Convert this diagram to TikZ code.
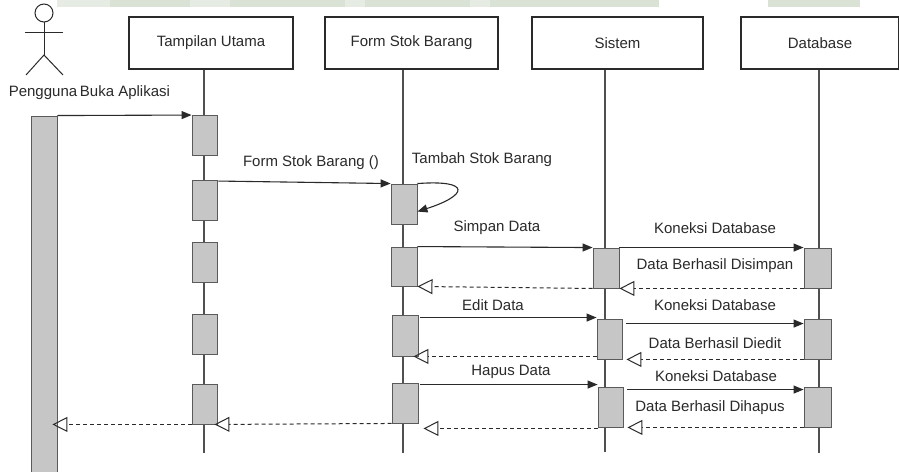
\documentclass[tikz,border=0pt]{standalone}
\usepackage{fontspec}
\setmainfont{Liberation Sans}
\usetikzlibrary{arrows.meta,calc}
\definecolor{ink}{HTML}{2A2A2A}
\definecolor{actfill}{HTML}{C6C6C6}
\definecolor{actline}{HTML}{5A5A5A}
\definecolor{lifeline}{HTML}{505050}
\definecolor{bandA}{HTML}{D9E2D5}
\definecolor{bandB}{HTML}{E6ECE3}
\begin{document}
\begin{tikzpicture}[x=1pt,y=-1pt,
  font=\fontsize{15}{18}\selectfont,
  every node/.style={text=ink},
  headbox/.style={draw=ink, line width=1.1pt, fill=white, minimum height=52pt, inner sep=0pt},
  actbox/.style={draw=actline, fill=actfill, line width=0.9pt, inner sep=0pt, minimum width=25pt, minimum height=40pt},
  lifel/.style={draw=lifeline, line width=1.1pt},
  msg/.style={draw=ink, line width=1.1pt, -{Triangle[length=10pt,width=8pt]}},
  retmsg/.style={draw=ink, line width=1pt, dash pattern=on 4pt off 3pt, -{Triangle[open,length=15pt,width=15pt,line width=1pt]}},
  lbl/.style={inner sep=0pt}
]
\useasboundingbox (0,0) rectangle (899,471);
\fill[white] (0,0) rectangle (899,471);

% faint band at the top edge
\fill[bandB] (57,0) rectangle (110,7);
\fill[bandA] (110,0) rectangle (190,7);
\fill[bandB] (190,0) rectangle (230,7);
\fill[bandA] (230,0) rectangle (345,7);
\fill[bandB] (345,0) rectangle (365,7);
\fill[bandA] (365,0) rectangle (470,7);
\fill[bandB] (470,0) rectangle (490,7);
\fill[bandA] (490,0) rectangle (659,7);
\fill[bandA] (768,0) rectangle (860,7);

% actor
\draw[ink, line width=1pt] (44,13) circle (9);
\draw[ink, line width=1pt] (44,22) -- (44,55);
\draw[ink, line width=1pt] (25,32) -- (63,32);
\draw[ink, line width=1pt] (26,75) -- (44,55) -- (63,75);
\node[lbl] (actor) at (43,93) {Pengguna};
\node[lbl] (buka) at (125,93) {Buka Aplikasi};

% heads
\node[headbox, minimum width=164pt] (tu) at (211,43) {Tampilan Utama};
\node[headbox, minimum width=173pt] (fsb) at (411.5,43) {Form Stok Barang};
\node[headbox, minimum width=171pt] (sis) at (617.5,43) {Sistem};
\node[headbox, minimum width=158pt] (db) at (820,43) {Database};

% lifeline ends
\coordinate (tuE) at (204,453);
\coordinate (fsbE) at (403,453);
\coordinate (sisE) at (605,452);
\coordinate (dbE) at (819,453);
\draw[lifel] (tu.south -| tuE) -- (tuE);
\draw[lifel] (fsb.south -| fsbE) -- (fsbE);
\draw[lifel] (sis.south -| sisE) -- (sisE);
\draw[lifel] (db.south -| dbE) -- (dbE);

% user activation bar
\node[actbox, minimum width=26pt, minimum height=360pt] (pb) at (44,296) {};

% Tampilan Utama activations
\node[actbox] (t1) at (204.5,135.5) {};
\node[actbox] (t2) at (204.5,200.5) {};
\node[actbox] (t3) at (204.5,262.5) {};
\node[actbox] (t4) at (204.5,334) {};
\node[actbox] (t5) at (204.5,404) {};

% Form Stok Barang activations
\node[actbox, minimum width=26pt] (f1) at (404,204) {};
\node[actbox, minimum width=26pt, minimum height=39pt] (f2) at (404,266.5) {};
\node[actbox, minimum width=26pt, minimum height=41pt] (f3) at (405,335.5) {};
\node[actbox, minimum width=26pt] (f4) at (405,403) {};

% Sistem activations
\node[actbox, minimum width=26pt] (s1) at (606,268) {};
\node[actbox] (s2) at (609.5,339) {};
\node[actbox] (s3) at (610.5,407) {};

% Database activations
\node[actbox, minimum width=27pt] (d1) at (817.5,268) {};
\node[actbox, minimum width=27pt] (d2) at (817.5,339) {};
\node[actbox, minimum width=27pt] (d3) at (817.5,407) {};

% messages
\draw[msg] (pb.north east) -- (t1.north west);
\draw[msg] ($(t2.north east)+(1,1)$) -- (f1.north west);
\draw[msg] (f1.north east) .. controls ($(f1.north east)+(55,-4)$) and ($(f1.north east)+(50,12)$) .. ($(f1.north east)+(0,28)$);
\draw[msg] (f2.north east) -- (s1.north west);
\draw[msg] (s1.north east) -- (d1.north west);
\draw[retmsg] (d1.south west) -- (s1.south east);
\draw[retmsg] (s1.south west) -- (f2.south east);

\draw[msg] ($(f3.north east)+(2,3)$) -- ($(s2.north west)+(0,-1)$);
\draw[msg] ($(s2.north east)+(4,5)$) -- ($(d2.north west)+(0,5)$);
\draw[retmsg] (d2.south west) -- ($(s2.south east)+(4,0)$);
\draw[retmsg] ($(s2.south west)+(0,-3)$) -- ($(f3.south east)+(-5,0)$);

\draw[msg] ($(f4.north east)+(2,2)$) -- ($(s3.north west)+(0,-2)$);
\draw[msg] ($(s3.north east)+(4,3)$) -- ($(d3.north west)+(0,3)$);
\draw[retmsg] (d3.south west) -- ($(s3.south east)+(4,0)$);
\draw[retmsg] ($(s3.south west)+(0,1)$) -- ($(f4.south east)+(5,5)$);
\draw[retmsg] (f4.south west) -- ($(t5.south east)+(-3,0)$);
\draw[retmsg] (t5.south west) -- ($(pb.east |- t5.south west)+(-5,0)$);

% labels
\node[lbl] (l1) at (311,163) {Form Stok Barang ()};
\node[lbl] (l2) at (482,160) {Tambah Stok Barang};
\node[lbl] (l3) at (497,228) {Simpan Data};
\node[lbl] (l4) at (715,228) {Koneksi Database};
\node[lbl] (l5) at (715,266) {Data Berhasil Disimpan};
\node[lbl] (l6) at (493,305) {Edit Data};
\node[lbl] (l7) at (715,305) {Koneksi Database};
\node[lbl] (l8) at (715,343) {Data Berhasil Diedit};
\node[lbl] (l9) at (511,372) {Hapus Data};
\node[lbl] (l10) at (716,376) {Koneksi Database};
\node[lbl] (l11) at (710,408) {Data Berhasil Dihapus};
\end{tikzpicture}
\end{document}
